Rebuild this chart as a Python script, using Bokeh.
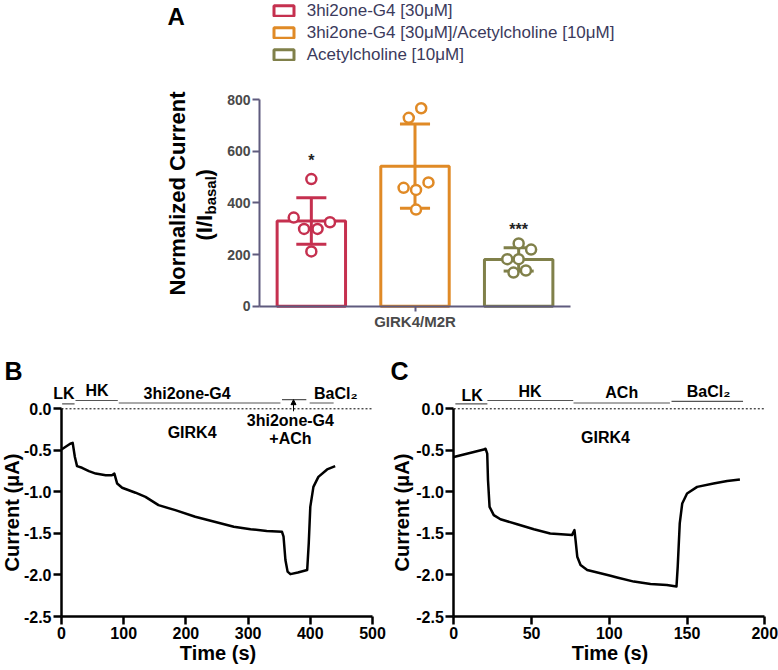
import numpy as np
from bokeh.plotting import figure
from bokeh.models import (Range1d, FixedTicker, ColumnDataSource, Legend, LegendItem, LinearAxis,
                          Label, LabelSet, Arrow, NormalHead, PrintfTickFormatter)
from bokeh.layouts import column, row
from bokeh.embed import file_html
from bokeh.resources import INLINE
from bokeh.core.properties import value

FONT = "Liberation Sans"

# ---------------- Panel A data ----------------
groups = ["3hi2one-G4 [30\u03bcM]",
          "3hi2one-G4 [30\u03bcM]/Acetylcholine [10\u03bcM]",
          "Acetylcholine [10\u03bcM]"]
group_x = [1, 2, 3]
colors = ["#c5304f", "#e08a26", "#80804a"]
means = [330, 542, 181]
sds = [90, 163, 45]
pts_red = [343, 299, 299, 325, 212, 492]
pts_orange = [729, 766, 458, 450, 479, 374]
pts_olive = [243, 219, 182, 182, 130, 138]
jit_red = [-0.17, -0.07, 0.06, 0.18, 0.0, 0.0]
jit_orange = [-0.06, 0.06, -0.11, 0.01, 0.13, 0.01]
jit_olive = [0.0, 0.12, -0.11, 0.0, -0.05, 0.07]
sig_x = [1, 3]
sig_text = ["*", "***"]
sig_y = [564, 298]
a_yticks = [0, 200, 400, 600, 800]
a_xtick_label = "GIRK4/M2R"

# ---------------- Panel B data ----------------
b_t = [0, 14, 18, 21.5, 25, 33, 44, 55, 71, 81, 85, 89.5, 97.5, 119, 135, 156, 183, 215,
       246, 277, 304, 330, 354.5, 357, 360, 363.5, 368, 380, 395, 397.5, 400, 405, 413, 427, 440]
b_i = [-0.49, -0.42, -0.41, -0.58, -0.69, -0.71, -0.75, -0.78, -0.80, -0.80, -0.78, -0.90,
       -0.95, -1.01, -1.06, -1.16, -1.22, -1.30, -1.36, -1.42, -1.45, -1.47, -1.48, -1.54,
       -1.82, -1.96, -1.99, -1.97, -1.94, -1.62, -1.18, -0.94, -0.82, -0.73, -0.69]
b_phase_start = [1, 22.5, 92, 354.5, 399]
b_phase_end = [21, 90.5, 352, 393.6, 437.5]
b_phase_y = [0.06, 0.10, 0.07, 0.11, 0.07]
b_text = ["LK", "HK", "3hi2one-G4", "BaCl\u2082", "GIRK4", "3hi2one-G4", "+ACh"]
b_text_x = [4, 57, 202, 441, 210, 368, 368]
b_text_y = [0.18, 0.22, 0.18, 0.19, -0.28, -0.14, -0.36]
b_arrow_x = 373

# ---------------- Panel C data ----------------
c_t = [0, 19.3, 20.4, 21.5, 22, 23, 25.7, 30, 40.8, 51.5, 62, 76, 77.6, 78.3, 79.4, 81.5,
       85.8, 94.3, 100.8, 105, 115.8, 126.5, 137, 143.2, 144, 145.3, 146.9, 150, 156.5, 167,
       175.8, 184]
c_i = [-0.58, -0.49, -0.48, -0.54, -0.86, -1.18, -1.28, -1.33, -1.39, -1.45, -1.50, -1.52,
       -1.46, -1.58, -1.78, -1.88, -1.94, -1.98, -2.01, -2.03, -2.08, -2.11, -2.12, -2.14,
       -1.90, -1.38, -1.14, -1.02, -0.94, -0.90, -0.87, -0.85]
c_phase_start = [1, 21.6, 77, 140]
c_phase_end = [21.6, 76.8, 139, 186]
c_phase_y = [0.06, 0.10, 0.07, 0.09]
c_text = ["LK", "HK", "ACh", "BaCl\u2082", "GIRK4"]
c_text_x = [11.8, 49, 108, 163.8, 97.6]
c_text_y = [0.16, 0.21, 0.20, 0.21, -0.345]

trace_yticks = [-2.5, -2.0, -1.5, -1.0, -0.5, 0.0]


def lin_range(p0, v0, p1, v1, size):
    """Range whose value v0 sits at pixel p0 and v1 at pixel p1 of a 'size'-pixel frame."""
    k = (v1 - v0) / (p1 - p0)
    return Range1d(v0 - p0 * k, v0 + (size - p0) * k)


def style_axis(ax, color, width, tick_out, font_size, label_color):
    ax.axis_line_color = color
    ax.axis_line_width = width
    ax.major_tick_line_color = color
    ax.major_tick_line_width = width
    ax.major_tick_in = 0
    ax.major_tick_out = tick_out
    ax.minor_tick_line_color = None
    ax.major_label_text_font = FONT
    ax.major_label_text_font_style = "bold"
    ax.major_label_text_font_size = font_size
    ax.major_label_text_color = label_color
    ax.major_label_standoff = 2


def txt(x, y, text, size, **kw):
    kw.setdefault("text_baseline", "middle")
    return Label(x=x, y=y, x_units="screen", y_units="screen", text=text, text_font=FONT,
                 text_font_style="bold", text_font_size=size, text_color="black", **kw)


# =============== Figure A ===============
AX = "#5f5b7e"
WA, HA = 778, 350
pA = figure(width=WA, height=HA, x_range=lin_range(259, 0.5, 570, 3.5, WA),
            y_range=lin_range(HA - 305.7, 0, HA - 99, 800, HA),
            x_axis_location=None, y_axis_location=None,
            output_backend="svg", toolbar_location=None, min_border=0)
pA.outline_line_color = None
for g in pA.grid:
    g.visible = False

yaxA = LinearAxis(fixed_location=0.5, bounds=(0, 800), ticker=FixedTicker(ticks=a_yticks))
style_axis(yaxA, AX, 2, 7, "14px", "#4a4a4a")
xaxA = LinearAxis(fixed_location=0, bounds=(0.5, 3.5), ticker=FixedTicker(ticks=[2]),
                  major_label_overrides={2: a_xtick_label})
style_axis(xaxA, AX, 2, 5, "15px", "#4a4a4a")

srcA = ColumnDataSource(dict(x=group_x, top=means, color=colors))
bars = pA.vbar(x="x", top="top", width=0.66, source=srcA, fill_color="white",
               line_color="color", line_width=3)

gx = np.array(group_x, dtype=float)
up = np.array(means) + np.array(sds)
lo = np.array(means) - np.array(sds)
cap = 0.145
pA.segment(x0=gx, y0=lo, x1=gx, y1=up, line_color=colors, line_width=3)
pA.segment(x0=gx - cap, y0=up, x1=gx + cap, y1=up, line_color=colors, line_width=3)
pA.segment(x0=gx - cap, y0=lo, x1=gx + cap, y1=lo, line_color=colors, line_width=3)

for g, pts, jit, col in zip(group_x, [pts_red, pts_orange, pts_olive],
                            [jit_red, jit_orange, jit_olive], colors):
    pA.scatter(x=[g + j for j in jit], y=pts, marker="circle", size=10, line_width=2.5,
               line_color=col, fill_color="white")

pA.text(x=sig_x, y=sig_y, text=sig_text, text_align="center", text_baseline="middle",
        text_font=value(FONT), text_font_style="bold", text_font_size="16px", text_color="#222222")

pA.add_layout(yaxA, "left")
pA.add_layout(xaxA, "below")

legend = Legend(items=[LegendItem(label=groups[i], renderers=[bars], index=i) for i in range(3)],
                location=(270.7, 285.5), orientation="vertical", padding=0, spacing=2,
                label_height=20, glyph_height=13, glyph_width=25, label_standoff=11,
                border_line_color=None, background_fill_alpha=0, margin=0,
                label_text_font=FONT, label_text_font_size="17px", label_text_color="#3b3a5c")
pA.add_layout(legend, "center")

pA.add_layout(txt(167, 334, "A", "24px"))
pA.add_layout(txt(177, 157, "Normalized Current", "22px", angle=np.pi / 2,
                  text_align="center"))
pA.add_layout(txt(204, 110, "(I/I", "22px", angle=np.pi / 2, text_align="left"))
pA.add_layout(txt(210, 136, "basal", "15px", angle=np.pi / 2, text_align="left"))
pA.add_layout(txt(204, 174, ")", "22px", angle=np.pi / 2, text_align="left"))


# =============== Trace figures ===============
def trace_fig(width, x0_pix, xmax_pix, xmax, xticks, t, cur, ph_s, ph_e, ph_y,
              tx_text, tx, ty, letter, title_x, time_x):
    H = 320
    p = figure(width=width, height=H, x_range=lin_range(x0_pix, 0, xmax_pix, xmax, width),
               y_range=lin_range(670 - 616, -2.5, 670 - 408.3, 0.0, H),
               x_axis_location=None, y_axis_location=None,
               output_backend="svg", toolbar_location=None, min_border=0)
    p.outline_line_color = None
    for g in p.grid:
        g.visible = False

    yax = LinearAxis(fixed_location=0, bounds=(-2.5, 0), ticker=FixedTicker(ticks=trace_yticks),
                     formatter=PrintfTickFormatter(format="%.1f"))
    style_axis(yax, "black", 2.5, 8, "16px", "black")
    xax = LinearAxis(fixed_location=-2.5, bounds=(0, xmax), ticker=FixedTicker(ticks=xticks))
    style_axis(xax, "black", 2.5, 8, "16px", "black")

    p.segment(x0=[0], y0=[0], x1=[xmax], y1=[0], line_color="black", line_width=1,
              line_dash="2 2")
    p.segment(x0=ph_s, y0=ph_y, x1=ph_e, y1=ph_y, line_color="#555555", line_width=1.2)
    p.line(t, cur, line_color="black", line_width=2.5, line_join="round")

    p.add_layout(yax, "left")
    p.add_layout(xax, "below")

    src = ColumnDataSource(dict(x=tx, y=ty, text=tx_text))
    p.add_layout(LabelSet(x="x", y="y", text="text", source=src, text_align="center",
                          text_baseline="middle", text_font=value(FONT),
                          text_font_style="bold", text_font_size="16px", text_color="black"))
    p.add_layout(txt(letter[1], letter[2], letter[0], "25px"))
    p.add_layout(txt(title_x, 158, "Current (\u03bcA)", "20px", angle=np.pi / 2,
                     text_align="center"))
    p.add_layout(txt(time_x, 18, "Time (s)", "20px", text_align="center"))
    return p


pB = trace_fig(390, 61, 372, 500, [0, 100, 200, 300, 400, 500], b_t, b_i,
               b_phase_start, b_phase_end, b_phase_y, b_text, b_text_x, b_text_y,
               ("B", 4, 300), 11, 217.5)
pB.add_layout(Arrow(end=NormalHead(size=5, fill_color="black", line_color="black", line_width=1),
                    x_start=b_arrow_x, y_start=-0.03, x_end=b_arrow_x, y_end=0.11,
                    line_color="black", line_width=1))

pC = trace_fig(388, 453.3 - 390, 764.3 - 390, 200, [0, 50, 100, 150, 200], c_t, c_i,
               c_phase_start, c_phase_end, c_phase_y, c_text, c_text_x, c_text_y,
               ("C", 0, 300), 11, 219.5)

layout = column(pA, row(pB, pC))
open("out.html", "w").write(file_html(layout, INLINE))
